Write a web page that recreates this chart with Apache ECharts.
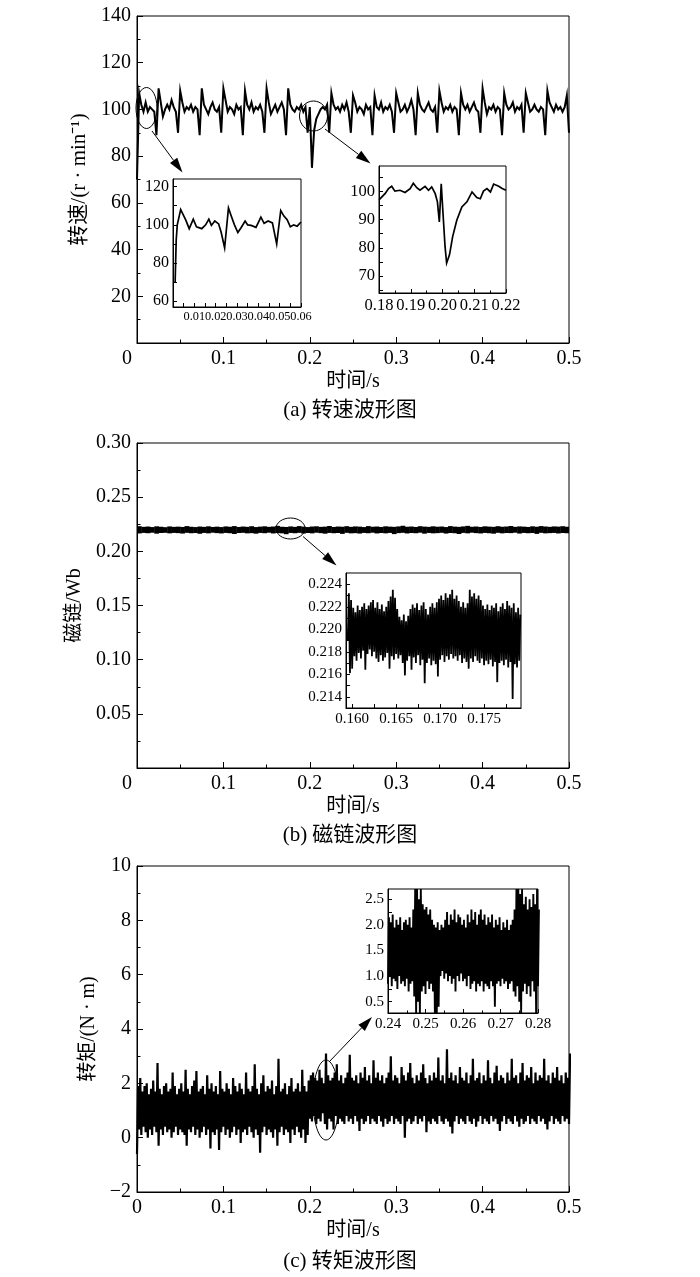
<!DOCTYPE html>
<html>
<head>
<meta charset="utf-8">
<title>转速、磁链、转矩波形图</title>
<script src="https://cdn.jsdelivr.net/npm/echarts@6.0.0/dist/echarts.min.js"></script>
<style>
html, body { margin: 0; padding: 0; background: #fff; }
#chart { width: 700px; height: 1277px; }
</style>
</head>
<body>
<div id="chart"></div>
<script>
// (a) speed, r/min, sampled every 2.5 ms from 0 to 0.5 s
const speedStep = 0.0025;
const speedValues = [
  70, 107, 102, 99, 103, 99, 101, 100, 99, 89,
  109, 103, 97, 100, 102, 100, 104, 101, 99, 90,
  108, 103, 99, 101, 100, 102, 99, 101, 100, 89,
  109, 102, 100, 98, 101, 103, 100, 99, 101, 90,
  109, 104, 99, 101, 100, 98, 102, 100, 101, 89,
  108, 102, 100, 103, 99, 101, 100, 102, 99, 90,
  109, 103, 98, 100, 102, 99, 101, 103, 100, 89,
  109, 102, 100, 99, 101, 100, 102, 99, 101, 90,
  101, 75, 91, 96, 98, 100, 101, 100, 102, 90,
  107, 102, 100, 101, 99, 102, 100, 103, 99, 90,
  106, 103, 99, 101, 100, 98, 102, 100, 101, 89,
  106, 101, 100, 103, 99, 101, 100, 102, 99, 90,
  107, 103, 99, 100, 102, 99, 101, 104, 100, 89,
  107, 102, 100, 99, 101, 103, 100, 99, 101, 90,
  108, 103, 99, 101, 100, 102, 99, 101, 100, 89,
  107, 102, 100, 102, 99, 101, 103, 100, 99, 90,
  109, 103, 98, 101, 100, 102, 99, 101, 100, 89,
  107, 102, 100, 101, 103, 99, 101, 100, 102, 90,
  107, 103, 99, 100, 102, 100, 99, 101, 100, 89,
  108, 103, 101, 99, 102, 100, 101, 99, 101, 106,
  90
];
// (a) zoom 0 ~ 0.06 s, [time, speed]
const speedZoomStart = [
  [0.001, 70], [0.0015, 92], [0.002, 100], [0.0036, 108], [0.0047, 105.5], [0.006, 102.5],
  [0.0076, 98], [0.0095, 103], [0.011, 99], [0.0135, 98], [0.0153, 100], [0.0168, 103],
  [0.018, 99.7], [0.0196, 102], [0.0214, 100.5], [0.0226, 96], [0.0242, 88], [0.026, 108.8],
  [0.0273, 104.6], [0.0288, 100], [0.0304, 96], [0.0319, 98.5], [0.0338, 102], [0.035, 100],
  [0.0366, 99.7], [0.0389, 98.7], [0.0412, 104], [0.0427, 100.8], [0.0446, 102], [0.0466, 101],
  [0.0486, 90], [0.0505, 107.5], [0.052, 104.6], [0.0535, 102.7], [0.055, 99], [0.0566, 100],
  [0.0582, 99.3], [0.06, 101.5]
];
// (a) zoom 0.18 ~ 0.22 s, [time, speed]
const speedZoomDip = [
  [0.18, 97], [0.1803, 97.4], [0.1819, 99.2], [0.183, 101], [0.184, 101.8], [0.185, 100.1],
  [0.1866, 100.4], [0.1882, 99.6], [0.1898, 101], [0.1908, 102.9], [0.1919, 101.3], [0.1929, 100.4],
  [0.1945, 101.8], [0.1956, 100.4], [0.1966, 101.6], [0.1977, 99.2], [0.1984, 96.3], [0.199, 89.2],
  [0.1996, 102.7], [0.2001, 93.3], [0.2008, 80.5], [0.2013, 74.6], [0.2022, 77.5], [0.2032, 84],
  [0.2045, 89.8], [0.2061, 94.5], [0.2077, 96.3], [0.2093, 99.8], [0.2108, 97.8], [0.2119, 97.4],
  [0.2129, 100.1], [0.214, 101], [0.2151, 99.8], [0.2161, 102.6], [0.2177, 101.8], [0.2188, 101],
  [0.22, 100.4]
];

// (b) flux, Wb: band extremes every 5 ms from 0 to 0.5 s
const fluxStep = 0.005;
const fluxHigh = [
  0.2232, 0.2226, 0.2229, 0.2224, 0.2231, 0.2227, 0.2223, 0.2230, 0.2226, 0.2228,
  0.2225, 0.2233, 0.2227, 0.2224, 0.2229, 0.2226, 0.2231, 0.2225, 0.2228, 0.2224,
  0.2230, 0.2227, 0.2233, 0.2225, 0.2229, 0.2226, 0.2232, 0.2224, 0.2228, 0.2231,
  0.2226, 0.2229, 0.2235, 0.2227, 0.2225, 0.2230, 0.2226, 0.2233, 0.2228, 0.2224,
  0.2229, 0.2231, 0.2226, 0.2228, 0.2234, 0.2225, 0.2229, 0.2227, 0.2232, 0.2226,
  0.2230, 0.2228, 0.2224, 0.2233, 0.2227, 0.2229, 0.2225, 0.2231, 0.2228, 0.2226,
  0.2230, 0.2236, 0.2227, 0.2229, 0.2225, 0.2232, 0.2228, 0.2226, 0.2231, 0.2227,
  0.2229, 0.2224, 0.2233, 0.2228, 0.2226, 0.2230, 0.2235, 0.2227, 0.2229, 0.2225,
  0.2231, 0.2228, 0.2226, 0.2232, 0.2227, 0.2229, 0.2234, 0.2226, 0.2230, 0.2228,
  0.2225, 0.2231, 0.2227, 0.2233, 0.2229, 0.2226, 0.2230, 0.2228, 0.2232, 0.2227,
  0.2229
];
const fluxLow = [
  0.2165, 0.2170, 0.2167, 0.2172, 0.2163, 0.2169, 0.2171, 0.2166, 0.2170, 0.2168,
  0.2164, 0.2171, 0.2167, 0.2169, 0.2162, 0.2170, 0.2166, 0.2172, 0.2168, 0.2165,
  0.2170, 0.2167, 0.2160, 0.2169, 0.2171, 0.2166, 0.2168, 0.2163, 0.2170, 0.2167,
  0.2172, 0.2165, 0.2169, 0.2166, 0.2158, 0.2170, 0.2167, 0.2171, 0.2164, 0.2169,
  0.2166, 0.2172, 0.2168, 0.2163, 0.2170, 0.2167, 0.2169, 0.2161, 0.2171, 0.2166,
  0.2168, 0.2164, 0.2170, 0.2167, 0.2172, 0.2165, 0.2169, 0.2166, 0.2170, 0.2159,
  0.2168, 0.2171, 0.2165, 0.2169, 0.2167, 0.2172, 0.2163, 0.2170, 0.2166, 0.2168,
  0.2171, 0.2164, 0.2169, 0.2167, 0.2160, 0.2170, 0.2166, 0.2172, 0.2168, 0.2165,
  0.2170, 0.2167, 0.2163, 0.2171, 0.2166, 0.2169, 0.2168, 0.2172, 0.2164, 0.2170,
  0.2167, 0.2169, 0.2161, 0.2171, 0.2166, 0.2168, 0.2170, 0.2165, 0.2169, 0.2167,
  0.2170
];
// (b) zoom: extremes every 0.25 ms from 0.1595 s
const fluxZoomStart = 0.1595;
const fluxZoomStep = 0.00025;
const fluxZoomHigh = [
  0.2232, 0.2226, 0.2219, 0.2215, 0.2221, 0.2217, 0.2220, 0.2223, 0.2218, 0.2221,
  0.2224, 0.2226, 0.2219, 0.2224, 0.2218, 0.2222, 0.2216, 0.2220, 0.2225, 0.2229,
  0.2235, 0.2228, 0.2218, 0.2211, 0.2208, 0.2213, 0.2207, 0.2212, 0.2218, 0.2222,
  0.2219, 0.2223, 0.2217, 0.2221, 0.2224, 0.2218, 0.2213, 0.2220, 0.2223, 0.2219,
  0.2224, 0.2227, 0.2230, 0.2226, 0.2232, 0.2228, 0.2231, 0.2235, 0.2227, 0.2230,
  0.2225, 0.2220, 0.2224, 0.2219, 0.2223, 0.2235, 0.2229, 0.2232, 0.2227, 0.2230,
  0.2226, 0.2221, 0.2218, 0.2222, 0.2217, 0.2221, 0.2219, 0.2223, 0.2216, 0.2220,
  0.2223, 0.2218, 0.2225, 0.2221, 0.2219, 0.2223, 0.2215, 0.2219, 0.2213
];
const fluxZoomLow = [
  0.2190, 0.2161, 0.2165, 0.2176, 0.2172, 0.2179, 0.2174, 0.2181, 0.2164, 0.2178,
  0.2182, 0.2176, 0.2180, 0.2174, 0.2171, 0.2177, 0.2172, 0.2175, 0.2179, 0.2165,
  0.2176, 0.2173, 0.2178, 0.2174, 0.2177, 0.2170, 0.2159, 0.2172, 0.2176, 0.2164,
  0.2175, 0.2170, 0.2177, 0.2168, 0.2173, 0.2152, 0.2170, 0.2174, 0.2168, 0.2172,
  0.2169, 0.2158, 0.2173, 0.2177, 0.2171, 0.2176, 0.2173, 0.2178, 0.2174, 0.2176,
  0.2172, 0.2177, 0.2170, 0.2174, 0.2171, 0.2165, 0.2174, 0.2171, 0.2176, 0.2172,
  0.2170, 0.2174, 0.2168, 0.2172, 0.2169, 0.2173, 0.2167, 0.2171, 0.2153, 0.2170,
  0.2172, 0.2168, 0.2173, 0.2166, 0.2171, 0.2138, 0.2169, 0.2166, 0.2172
];

// (c) torque, N·m: extremes every 2.5 ms from 0 to 0.5 s
const torqueStep = 0.0025;
const torqueHigh = [
  1.9, 2.2, 1.7, 1.9, 2.0, 1.6, 1.8, 2.1, 1.7, 2.75,
  1.8, 1.6, 1.9, 2.0, 1.7, 1.8, 2.4, 1.9, 1.6, 1.8,
  2.0, 1.7, 2.5, 1.8, 1.6, 1.9, 2.1, 2.45, 1.7, 1.8,
  1.9, 1.6, 2.3, 1.8, 2.0, 1.7, 1.9, 1.6, 2.45, 1.8,
  1.7, 2.0, 1.8, 1.6, 2.2, 1.9, 1.7, 2.0, 1.8, 1.6,
  2.4, 1.8, 1.7, 1.9, 2.7, 1.8, 1.6, 2.0, 2.3, 1.7,
  1.9, 1.8, 2.1, 1.6, 1.9, 2.9, 1.7, 1.8, 2.0, 1.6,
  1.9, 2.2, 1.7, 1.8, 2.0, 1.7, 2.5, 1.9, 1.7, 2.1,
  2.3, 2.4, 2.2, 2.1, 2.5, 2.2, 2.0, 3.1, 2.3, 2.1,
  2.2, 2.4, 2.7, 2.1, 2.3, 2.0, 2.2, 2.4, 3.05, 2.2,
  2.1, 2.3, 2.0, 2.4, 2.2, 2.6, 2.1, 2.3, 2.0, 2.85,
  2.2, 2.4, 2.1, 2.3, 2.0, 2.2, 2.4, 3.0, 2.1, 2.3,
  2.2, 2.0, 2.6, 2.3, 2.1, 2.4, 2.75, 2.2, 2.0, 2.3,
  2.1, 2.4, 2.7, 2.2, 2.0, 2.3, 2.1, 2.4, 2.2, 2.95,
  2.1, 2.3, 2.0, 3.25, 2.2, 2.4, 2.1, 2.3, 2.0, 2.6,
  2.2, 2.1, 2.4, 2.0, 2.3, 2.9, 2.1, 2.2, 2.4, 2.0,
  2.3, 2.1, 2.85, 2.2, 2.0, 2.4, 2.65, 2.1, 2.3, 2.2,
  2.0, 2.4, 2.1, 2.9, 2.2, 2.3, 2.0, 2.4, 2.75, 2.1,
  2.3, 2.2, 2.6, 2.0, 2.4, 2.1, 2.3, 2.2, 2.9, 2.1,
  2.3, 2.0, 2.4, 2.2, 2.6, 2.1, 2.3, 2.0, 2.4, 2.2,
  3.1
];
const torqueLow = [
  -0.6, 0.3, 0.1, 0.4, 0.2, 0.0, 0.3, 0.1, 0.4, 0.2,
  -0.3, 0.3, 0.1, 0.4, 0.2, 0.3, 0.0, 0.2, 0.4, 0.1,
  0.3, 0.2, 0.1, -0.3, 0.3, 0.2, 0.4, 0.1, 0.3, 0.0,
  0.2, 0.4, 0.1, 0.3, -0.4, 0.2, 0.1, 0.3, -0.45, 0.2,
  0.4, 0.1, 0.3, 0.0, 0.2, 0.4, 0.1, 0.3, -0.2, 0.2,
  0.3, 0.1, 0.4, 0.2, 0.0, 0.3, 0.1, -0.55, 0.2, 0.4,
  0.1, 0.3, 0.2, 0.0, 0.3, -0.3, 0.2, 0.4, 0.1, 0.3,
  0.2, -0.2, 0.3, 0.1, 0.4, 0.2, 0.0, 0.3, -0.2, 0.1,
  0.7, 0.6, 0.8, 0.5, 0.7, 0.6, 0.9, 0.5, 0.3, 0.7,
  0.6, 0.3, 0.8, 0.5, 0.7, 0.6, 0.5, 0.8, 0.6, 0.7,
  0.5, 0.8, 0.6, 0.25, 0.7, 0.5, 0.6, 0.8, 0.5, 0.7,
  0.6, 0.5, 0.8, 0.6, 0.4, 0.7, 0.5, 0.6, 0.8, 0.5,
  0.7, 0.6, 0.5, 0.8, 0.0, 0.6, 0.7, 0.5, 0.6, 0.8,
  0.5, 0.7, 0.6, 0.8, 0.2, 0.6, 0.5, 0.7, 0.6, 0.5,
  0.8, 0.6, 0.5, 0.7, 0.6, 0.4, 0.15, 0.6, 0.8, 0.5,
  0.7, 0.6, 0.5, 0.8, 0.6, 0.5, 0.7, 0.4, 0.6, 0.8,
  0.5, 0.7, 0.6, 0.5, 0.8, 0.6, 0.7, 0.5, 0.25, 0.6,
  0.8, 0.5, 0.7, 0.6, 0.5, 0.8, 0.6, 0.4, 0.7, 0.5,
  0.6, 0.8, 0.5, 0.7, 0.6, 0.5, 0.8, 0.6, 0.7, 0.5,
  0.3, 0.6, 0.8, 0.5, 0.7, 0.6, 0.5, 0.8, 0.6, 0.7,
  0.5
];
// (c) zoom: extremes every 0.5 ms from 0.24 s
const torqueZoomStart = 0.24;
const torqueZoomStep = 0.0005;
const torqueZoomHigh = [
  2.15, 2.05, 2.2, 1.95, 2.1, 2.0, 2.15, 1.9, 2.05, 2.1,
  2.0, 2.15, 1.95, 2.3, 2.7, 2.7, 2.5, 2.7, 2.4, 2.3,
  2.35, 2.2, 2.3, 2.1, 2.0, 1.95, 2.05, 1.9, 2.0, 1.95,
  2.1, 2.25, 2.0, 2.2, 2.1, 2.3, 2.05, 2.2, 2.15, 2.0,
  2.1, 1.95, 2.2, 2.05, 2.3, 2.1, 2.25, 2.0, 2.2, 2.3,
  2.1, 2.2, 2.0, 2.15, 2.05, 2.2, 1.95, 2.1, 2.0, 2.15,
  1.9, 2.05, 1.95, 2.1, 1.9, 2.0, 2.1, 2.3, 2.7, 2.7,
  2.6, 2.7, 2.4, 2.55, 2.3, 2.5, 2.35, 2.6, 2.4, 2.7,
  2.3
];
const torqueZoomLow = [
  0.85, 1.0, 0.8, 0.95, 0.9, 0.75, 1.0, 0.85, 0.9, 0.8,
  0.95, 0.7, 0.85, 0.9, 0.6, 0.28, 0.5, 0.28, 0.7, 0.8,
  0.65, 0.9, 0.75, 0.85, 0.7, 0.28, 0.28, 0.4, 1.0, 1.1,
  0.95, 1.05, 0.9, 1.0, 0.85, 0.95, 0.7, 1.0, 0.9, 1.05,
  0.9, 0.95, 0.8, 1.0, 0.75, 0.85, 0.9, 0.7, 0.85, 0.8,
  0.9, 0.7, 0.85, 0.8, 0.75, 0.9, 0.8, 0.4, 0.85, 0.9,
  0.8, 0.95, 0.85, 0.9, 0.75, 0.85, 0.9, 0.7, 0.6, 0.8,
  0.5, 0.28, 0.7, 0.85, 0.65, 0.8, 0.6, 0.9, 0.7, 0.28,
  0.8
];

// tick labels of the zoom windows
const speedStartXLabels = [0.01, 0.02, 0.03, 0.04, 0.05, 0.06];
const speedStartXTicks = [0.005, 0.01, 0.015, 0.02, 0.025, 0.03, 0.035, 0.04, 0.045, 0.05, 0.055, 0.06];
const speedStartLabels = [60, 80, 100, 120];
const speedStartTicks = [60, 70, 80, 90, 100, 110, 120];
const speedDipLabels = [70, 80, 90, 100];
const speedDipTicks = [65, 70, 75, 80, 85, 90, 95, 100, 105];
const fluxZoomXLabels = [0.160, 0.165, 0.170, 0.175];
const fluxZoomXTicks = [0.160, 0.1625, 0.165, 0.1675, 0.170, 0.1725, 0.175, 0.1775];
const fluxZoomYLabels = [0.214, 0.216, 0.218, 0.220, 0.222, 0.224];
const fluxZoomYTicks = [0.214, 0.215, 0.216, 0.217, 0.218, 0.219, 0.220, 0.221, 0.222, 0.223, 0.224];
const torqueZoomYLabels = [0.5, 1.0, 1.5, 2.0, 2.5];
const torqueZoomYTicks = [0.5, 0.75, 1.0, 1.25, 1.5, 1.75, 2.0, 2.25, 2.5];

const SERIF = '"Liberation Serif", "Times New Roman", "Noto Sans CJK SC", serif';
const BLACK = '#000';

function zigzag(t0, step, low, high) {
  const pts = [];
  low.forEach((v, i) => {
    pts.push([t0 + i * step, v]);
    pts.push([t0 + (i + 0.5) * step, high[i]]);
  });
  return pts;
}

function axis(gridIndex, extra) {
  const base = {
    type: 'value',
    gridIndex: gridIndex,
    axisLine: { show: true, onZero: false, lineStyle: { color: BLACK, width: 1 } },
    axisTick: { show: true, inside: true, length: 6, lineStyle: { color: BLACK, width: 1 } },
    minorTick: { show: true, splitNumber: 2, length: 3.5, lineStyle: { color: BLACK, width: 1 } },
    splitLine: { show: false },
    axisLabel: { color: BLACK, fontFamily: SERIF, fontSize: 20, margin: 6, showMinLabel: true, showMaxLabel: true }
  };
  Object.keys(extra).forEach(k => {
    const b = base[k];
    base[k] = (b && typeof b === 'object' && !Array.isArray(b)) ? Object.assign({}, b, extra[k]) : extra[k];
  });
  return base;
}

const nameStyle = { color: BLACK, fontFamily: SERIF, fontSize: 20 };
const timeName = { name: '时间/s', nameLocation: 'middle', nameGap: 29, nameTextStyle: nameStyle };
// the origin label of (a) and (b) sits left of the axis corner
const shiftedZero = {
  formatter: v => v === 0 ? '{z|0}' : v.toFixed(1),
  rich: { z: { padding: [0, 20, 0, 0], fontFamily: SERIF, fontSize: 20, color: BLACK } }
};

function insetTicks(labels, ticks, fmt, size) {
  return {
    axisLabel: { customValues: labels, formatter: fmt, fontSize: size, margin: 4 },
    axisTick: { customValues: ticks, length: 4 },
    minorTick: { show: false }
  };
}

function gridBox(left, top, width, height) {
  return { left, top, width, height, show: true, borderColor: BLACK, borderWidth: 1, backgroundColor: '#fff' };
}

function arrow(x1, y1, x2, y2) {
  const a = Math.atan2(y2 - y1, x2 - x1);
  const len = 15, half = 4.5;
  const bx = x2 - len * Math.cos(a), by = y2 - len * Math.sin(a);
  const nx = -Math.sin(a), ny = Math.cos(a);
  return [
    { type: 'line', shape: { x1, y1, x2: bx, y2: by }, style: { stroke: BLACK, lineWidth: 1 } },
    { type: 'polygon', shape: { points: [[x2, y2], [bx + half * nx, by + half * ny], [bx - half * nx, by - half * ny]] }, style: { fill: BLACK } }
  ];
}

function ring(cx, cy, rx, ry) {
  return { type: 'ellipse', shape: { cx, cy, rx, ry }, style: { fill: null, stroke: BLACK, lineWidth: 1 } };
}

function line(xi, data, width) {
  return {
    type: 'line', xAxisIndex: xi, yAxisIndex: xi, data: data,
    showSymbol: false, symbol: 'none', silent: true,
    lineStyle: { color: BLACK, width: width, join: 'miter' }
  };
}

// main flux band: one filled cell per 5 ms bin, from its low to its high value
const fluxBand = {
  type: 'custom', xAxisIndex: 3, yAxisIndex: 3, silent: true, clip: true,
  data: fluxLow.map((v, i) => [i * fluxStep, v, fluxHigh[i]]),
  encode: { x: 0, y: [1, 2] },
  renderItem: (params, api) => {
    const lo = api.coord([api.value(0), api.value(1)]);
    const hi = api.coord([api.value(0) + fluxStep, api.value(2)]);
    return {
      type: 'rect',
      shape: { x: lo[0], y: hi[1], width: hi[0] - lo[0] + 0.4, height: lo[1] - hi[1] },
      style: { fill: BLACK }
    };
  }
};

const chart = echarts.init(document.getElementById('chart'));
const captionStyle = { color: BLACK, fontFamily: SERIF, fontSize: 21, fontWeight: 'normal' };

chart.setOption({
  animation: false,
  backgroundColor: '#fff',
  title: [
    { text: '(a) 转速波形图', left: 'center', top: 395, textStyle: captionStyle },
    { text: '(b) 磁链波形图', left: 'center', top: 820, textStyle: captionStyle },
    { text: '(c) 转矩波形图', left: 'center', top: 1246, textStyle: captionStyle }
  ],
  grid: [
    gridBox(137, 16, 432, 327),
    gridBox(173, 179, 128, 128),
    gridBox(379, 166, 127, 127),
    gridBox(137, 443, 432, 325),
    gridBox(346, 573, 175, 135),
    gridBox(137, 866, 432, 326),
    gridBox(388, 889, 150, 124)
  ],
  xAxis: [
    axis(0, Object.assign({ min: 0, max: 0.5, interval: 0.1, axisLabel: shiftedZero }, timeName)),
    axis(1, Object.assign({ min: 0, max: 0.06 }, insetTicks(speedStartXLabels, speedStartXTicks, v => v.toFixed(2), 12.3))),
    axis(2, {
      min: 0.18, max: 0.22, interval: 0.01,
      axisTick: { length: 4 }, minorTick: { length: 2.5 },
      axisLabel: { formatter: v => v.toFixed(2), fontSize: 16.5, margin: 4 }
    }),
    axis(3, Object.assign({ min: 0, max: 0.5, interval: 0.1, axisLabel: shiftedZero }, timeName)),
    axis(4, Object.assign({ min: 0.1593, max: 0.1792 }, insetTicks(fluxZoomXLabels, fluxZoomXTicks, v => v.toFixed(3), 15))),
    axis(5, Object.assign({
      min: 0, max: 0.5, interval: 0.1,
      axisLabel: { formatter: v => v === 0 ? '0' : v.toFixed(1) }
    }, timeName)),
    axis(6, {
      min: 0.24, max: 0.28, interval: 0.01,
      axisTick: { length: 4 }, minorTick: { length: 2.5 },
      axisLabel: { formatter: v => v.toFixed(2), fontSize: 15, margin: 4 }
    })
  ],
  yAxis: [
    axis(0, {
      min: 0, max: 140, interval: 20,
      axisLabel: { formatter: v => v === 0 ? '' : String(v) },
      name: '转速/(r · min⁻¹)', nameLocation: 'middle', nameRotate: 90, nameGap: 38,
      nameTextStyle: Object.assign({}, nameStyle, { fontSize: 21 })
    }),
    axis(1, Object.assign({ min: 57, max: 124 }, insetTicks(speedStartLabels, speedStartTicks, v => String(v), 16))),
    axis(2, Object.assign({ min: 64, max: 109 }, insetTicks(speedDipLabels, speedDipTicks, v => String(v), 16.5))),
    axis(3, {
      min: 0, max: 0.3, interval: 0.05,
      axisLabel: { formatter: v => v === 0 ? '' : v.toFixed(2) },
      name: '磁链/Wb', nameLocation: 'middle', nameRotate: 90, nameGap: 49, nameTextStyle: nameStyle
    }),
    axis(4, Object.assign({ min: 0.213, max: 0.225 }, insetTicks(fluxZoomYLabels, fluxZoomYTicks, v => v.toFixed(3), 15))),
    axis(5, {
      min: -2, max: 10, interval: 2,
      axisLabel: { formatter: v => v < 0 ? '−' + (-v) : String(v) },
      name: '转矩/(N · m)', nameLocation: 'middle', nameRotate: 90, nameGap: 37, nameTextStyle: nameStyle
    }),
    axis(6, Object.assign({ min: 0.28, max: 2.7 }, insetTicks(torqueZoomYLabels, torqueZoomYTicks, v => v.toFixed(1), 15)))
  ],
  series: [
    line(0, speedValues.map((v, i) => [i * speedStep, v]), 2),
    line(1, speedZoomStart, 1.7),
    line(2, speedZoomDip, 1.7),
    fluxBand,
    line(4, zigzag(fluxZoomStart, fluxZoomStep, fluxZoomLow, fluxZoomHigh), 1.8),
    line(5, zigzag(0, torqueStep, torqueLow, torqueHigh), 2.2),
    line(6, zigzag(torqueZoomStart, torqueZoomStep, torqueZoomLow, torqueZoomHigh), 1.9)
  ],
  graphic: [
    ring(146.5, 108, 10.5, 20.5),
    ...arrow(152, 131, 182.5, 172.5),
    ring(313.5, 116, 14, 15),
    ...arrow(325, 129, 370.5, 163.5),
    ring(290.5, 528.5, 14.5, 10.5),
    ...arrow(303, 536.5, 336.5, 565.5),
    ring(326, 1100, 13, 40),
    ...arrow(329, 1062, 372, 1017)
  ]
});
</script>
</body>
</html>
